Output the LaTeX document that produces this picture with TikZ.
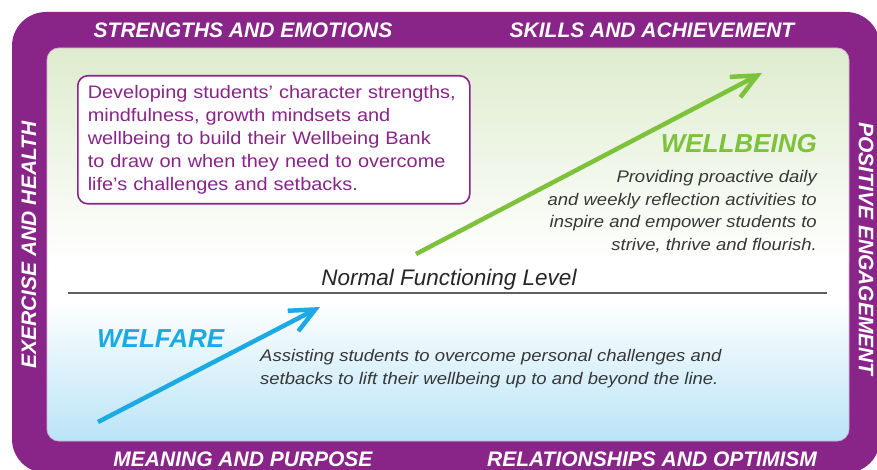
\documentclass[tikz,border=0pt]{standalone}
\usepackage{fontspec}
\setmainfont{Liberation Sans}
\newfontfamily\widesans[FakeStretch=1.1, ItalicFont={* Italic}]{Liberation Sans}
\usetikzlibrary{arrows.meta, positioning}

\definecolor{frame}{RGB}{137,36,137}
\definecolor{leafgreen}{RGB}{125,194,58}
\definecolor{skyblue}{RGB}{28,170,228}
\definecolor{palegreen}{RGB}{222,236,206}
\definecolor{paleblue}{RGB}{186,228,247}
\definecolor{inkgray}{RGB}{55,55,55}

\tikzset{
  band/.style={text=white, inner sep=0pt, font=\fontsize{21}{24}\selectfont\bfseries\itshape},
  heading/.style={inner sep=0pt, font=\fontsize{26}{30}\selectfont\bfseries\itshape},
  remark/.style={inner sep=0pt, text=inkgray, font=\widesans\itshape\fontsize{16.8}{22.7}\selectfont},
  riser/.style={line width=4.5pt, -{Straight Barb[length=25pt,width=23pt]}}
}

\begin{document}
\begin{tikzpicture}[x=1pt, y=-1pt]
\useasboundingbox (0,0) rectangle (877,470);

% Purple frame
\fill[frame, rounded corners=34pt] (12,12) rectangle (880,473);

% Inner panel, green fading to white, then to blue
\begin{scope}
  \clip[rounded corners=12pt] (47,48) rectangle (849,441);
  \shade[top color=palegreen, bottom color=white] (47,48) rectangle (849,262);
  \fill[white] (47,261) rectangle (849,301);
  \shade[top color=white, bottom color=paleblue] (47,300) rectangle (849,441);
\end{scope}
\draw[frame!35, line width=0.8pt, rounded corners=12pt] (47,48) rectangle (849,441);

% Labels on the frame
\node[band] (strengths) at (243,30) {STRENGTHS AND EMOTIONS};
\node[band] (skills) at (652,30) {SKILLS AND ACHIEVEMENT};
\node[band] (meaning) at (243,459) {MEANING AND PURPOSE};
\node[band] (relations) at (652,459) {RELATIONSHIPS AND OPTIMISM};
\node[band, rotate=90] (exercise) at (29,245) {EXERCISE AND HEALTH};
\node[band, rotate=-90] (engagement) at (866,249) {POSITIVE ENGAGEMENT};

% Character box
\node[draw=frame, line width=1.6pt, fill=white, rounded corners=10pt,
      anchor=north west, text width=372pt, inner xsep=10pt,
      minimum height=128pt, align=left, text=frame,
      font=\widesans\fontsize{18.1}{23}\selectfont] (bank) at (77,75)
  {Developing students’ character strengths,\\
   mindfulness, growth mindsets and\\
   wellbeing to build their Wellbeing Bank\\
   to draw on when they need to overcome\\
   life’s challenges and setbacks.};

% Normal functioning level
\coordinate (level-west) at (68,293);
\coordinate (level-east) at (827,293);
\draw[inkgray!80, line width=1.6pt] (level-west) -- (level-east);
\node[inner sep=0pt, anchor=base, text=black!85,
      font=\fontsize{22.5}{26}\selectfont\itshape] (level) at (449,285)
  {Normal Functioning Level};

% Wellbeing arrow
\coordinate (rise-start) at (416,254);
\coordinate (rise-end) at (762,73);
\draw[riser, leafgreen] (rise-start) -- (rise-end);
\node[heading, text=leafgreen, anchor=base east] (wellbeing) at (817,153) {WELLBEING};
\node[remark, anchor=north east, align=right] (wellbeing-note) at (817,170)
  {Providing proactive daily\\
   and weekly reflection activities to\\
   inspire and empower students to\\
   strive, thrive and flourish.};

% Welfare arrow
\coordinate (lift-start) at (98,422);
\coordinate (lift-end) at (320,307);
\draw[riser, skyblue] (lift-start) -- (lift-end);
\node[heading, text=skyblue, anchor=base west] (welfare) at (97,347) {WELFARE};
\node[remark, anchor=north west, align=left] (welfare-note) at (260,349)
  {Assisting students to overcome personal challenges and\\
   setbacks to lift their wellbeing up to and beyond the line.};

\end{tikzpicture}
\end{document}
